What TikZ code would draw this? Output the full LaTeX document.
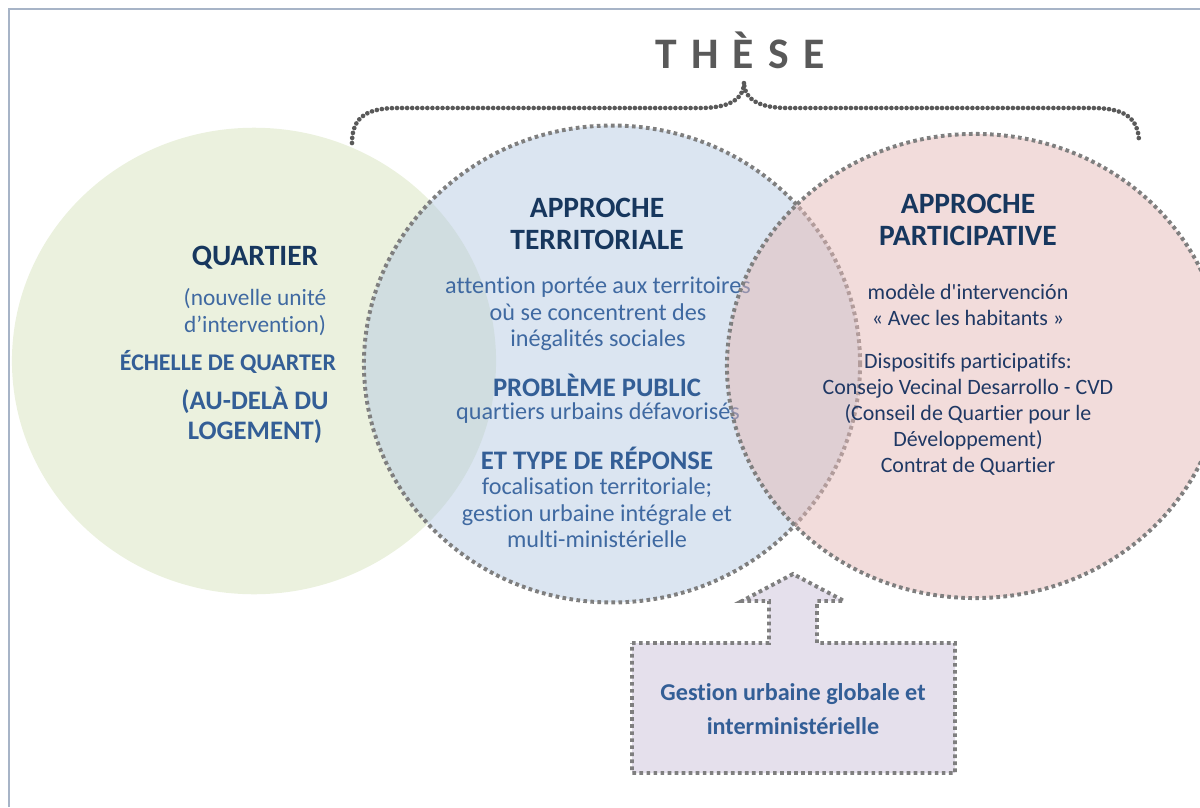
\documentclass[tikz,border=0pt]{standalone}
\usepackage{fontspec}
\setmainfont{Carlito}[Ligatures={TeX,NoCommon}]
\usepackage{xcolor}
\usepackage{tikz}
\usetikzlibrary{positioning}

\definecolor{navy}{HTML}{17375E}
\definecolor{midblue}{HTML}{335E96}
\definecolor{bodyblue}{HTML}{3F69A1}
\definecolor{pinknavy}{HTML}{1F3864}
\definecolor{greyline}{HTML}{7F7F7F}
\definecolor{darkgrey}{HTML}{595959}
\definecolor{framecol}{HTML}{A7B4C7}
\definecolor{greenfill}{HTML}{EBF1DE}
\definecolor{bluefill}{HTML}{B7CBE3}
\definecolor{pinkfill}{HTML}{E5B9B7}
\definecolor{lavender}{HTML}{E5E0EC}

\begin{document}
\begin{tikzpicture}[x=0.025cm, y=-0.025cm,
      dotline/.style={draw=greyline, line width=2.8pt, dash pattern=on 2.6pt off 2.4pt},
      bracedots/.style={draw=darkgrey, line width=3.3pt, line cap=round, dash pattern=on 0pt off 3.6pt},
      head/.style={font=\bfseries\fontsize{21}{22.8}\selectfont, text=navy, align=center, inner sep=0pt},
      sub/.style={font=\bfseries\fontsize{19}{21.3}\selectfont, text=midblue, align=center, inner sep=0pt},
      body/.style={font=\fontsize{17.2}{18.8}\selectfont, text=bodyblue, align=center, inner sep=0pt},
      pbody/.style={body, font=\fontsize{15.6}{18.5}\selectfont, text=pinknavy}]
  \useasboundingbox (0,0) rectangle (1200,807);
  % frame
  \draw[framecol, line width=1pt] (9,807) -- (9,9) -- (1200,9);

  % quartier
  \fill[greenfill] (254,361) ellipse [x radius=6.05cm, y radius=5.83cm];
  \node[head] (qtitle) at (255,258) {QUARTIER};
  \node[body, font=\fontsize{16.6}{19.2}\selectfont, text=bodyblue] (qnote) at (255,312) {(nouvelle unité\\d’intervention)};
  \node[sub, font=\bfseries\fontsize{17}{19}\selectfont] (qscale) at (228,362) {ÉCHELLE DE QUARTER};
  \node[sub] (qbeyond) at (255,415) {(AU-DELÀ DU\\LOGEMENT)};

  % approche territoriale
  \path[fill=bluefill, fill opacity=0.5] (612,364) ellipse [x radius=6.2cm, y radius=5.96cm];
  \path[dotline] (612,364) ellipse [x radius=6.2cm, y radius=5.96cm];
  \node[head] (ttitle) at (597,224) {APPROCHE\\TERRITORIALE};
  \node[body] (tfocus) at (598,314) {attention portée aux territoires\\où se concentrent des\\inégalités sociales};
  \node[sub] (tprob) at (597,385) {PROBLÈME PUBLIC};
  \node[body] (tprobtxt) at (598,413) {quartiers urbains défavorisés};
  \node[sub] (tresp) at (597,458) {ET TYPE DE RÉPONSE};
  \node[body] (tresptxt) at (597,513) {focalisation territoriale;\\gestion urbaine intégrale et\\multi-ministérielle};

  % approche participative
  \path[fill=pinkfill, fill opacity=0.5] (975,366) ellipse [x radius=6.2cm, y radius=5.8cm];
  \path[dotline] (975,366) ellipse [x radius=6.2cm, y radius=5.8cm];
  \node[head] (ptitle) at (968,220) {APPROCHE\\PARTICIPATIVE};
  \node[pbody] (pmodel) at (968,305) {modèle d\textquotesingle intervención\\« Avec les habitants »};
  \node[pbody] (pdisp) at (968,414) {Dispositifs participatifs:\\Consejo Vecinal Desarrollo - CVD\\(Conseil de Quartier pour le\\Développement)\\Contrat de Quartier};

  % these + accolade
  \node[font=\bfseries\fontsize{31}{31}\selectfont, text=darkgrey, inner sep=0pt] (these) at (740,50)
       {T\hspace{0.33em}H\hspace{0.33em}È\hspace{0.33em}S\hspace{0.33em}E};
  \path[bracedots] (352,143) .. controls (352,116) and (368,108) .. (398,108) -- (700,108)
       .. controls (728,108) and (744,100) .. (744,82)
       .. controls (744,100) and (760,108) .. (788,108) -- (1092,108)
       .. controls (1122,108) and (1139,116) .. (1139,143);

  % gestion urbaine
  \path[dotline, fill=lavender] (632,643) -- (769,643) -- (769,601) -- (742,601) -- (793,574)
       -- (844,601) -- (817,601) -- (817,643) -- (955,643) -- (955,773) -- (632,773) -- cycle;
  \node[sub, font=\bfseries\fontsize{17.2}{24}\selectfont] (gest) at (793,709) {Gestion urbaine globale et\\interministérielle};
\end{tikzpicture}
\end{document}
